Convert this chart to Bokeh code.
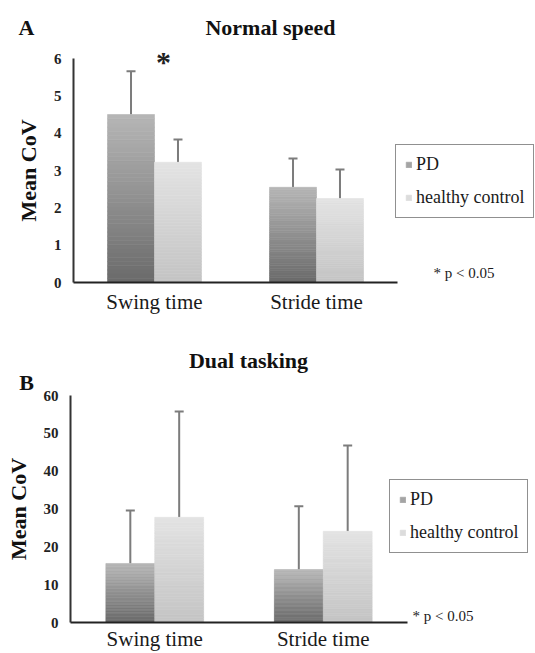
from bokeh.plotting import figure
from bokeh.models import (Range1d, FixedTicker, ColumnDataSource,
                          Whisker, TeeHead, Label, Legend, LegendItem)
from bokeh.layouts import column
from bokeh.embed import file_html
from bokeh.resources import INLINE

# ---------------- data ----------------
categories = ["Swing time", "Stride time"]
groups = ["PD", "healthy control"]

normal_pd_mean = [4.50, 2.55]
normal_pd_sd = [1.16, 0.77]
normal_hc_mean = [3.22, 2.25]
normal_hc_sd = [0.61, 0.78]

dual_pd_mean = [15.6, 14.0]
dual_pd_sd = [14.0, 16.7]
dual_hc_mean = [27.8, 24.1]
dual_hc_sd = [28.0, 22.7]

normal_ticks = [0, 1, 2, 3, 4, 5, 6]
dual_ticks = [0, 10, 20, 30, 40, 50, 60]

panel_letters = ["A", "B"]
panel_titles = ["Normal speed", "Dual tasking"]
sig_note = "* p < 0.05"
sig_mark = "*"

# ---------------- style ----------------
W = 535
SERIF = "Liberation Serif"
PD_GRAD = ("#6a6a6a", "#b6b6b6")
HC_GRAD = ("#c4c4c4", "#e3e3e3")
BAR_W = 0.29
NSEG = 40
LEG_IDX = int(NSEG * 0.75)   # shade of the gradient shown in the legend


def lerp(c0, c1, t):
    a = [int(c0[i:i + 2], 16) for i in (1, 3, 5)]
    b = [int(c1[i:i + 2], 16) for i in (1, 3, 5)]
    return "#%02x%02x%02x" % tuple(round(a[j] + (b[j] - a[j]) * t) for j in range(3))


def make_panel(pd_mean, pd_sd, hc_mean, hc_sd, ticks, letter, title,
               top, height, origin, px_per_x, px_per_y, cat_standoff,
               letter_pos, title_pos, note_pos, legend_pos, star_pos=None):
    # page pixel geometry -> data ranges (frame covers the whole canvas)
    ox, oy = origin
    bottom = top + height
    x_rng = Range1d(-ox / px_per_x, (W - ox) / px_per_x)
    y_rng = Range1d(-(bottom - oy) / px_per_y, (oy - top) / px_per_y)

    def scr(pt):
        return pt[0], bottom - pt[1]

    p = figure(width=W, height=height, output_backend="svg", toolbar_location=None,
               x_range=x_rng, y_range=y_rng,
               min_border=0, min_border_left=0, min_border_right=0,
               min_border_top=0, min_border_bottom=0,
               background_fill_color="white", border_fill_color="white")
    p.outline_line_color = None
    p.grid.visible = False

    renderers = []
    for means, sds, grad, off in ((pd_mean, pd_sd, PD_GRAD, -BAR_W / 2),
                                  (hc_mean, hc_sd, HC_GRAD, BAR_W / 2)):
        L, R, B, T, C = [], [], [], [], []
        xs, lo, up = [], [], []
        for i, v in enumerate(means):
            xc = i + 0.5 + off
            for k in range(NSEG):
                L.append(xc - BAR_W / 2)
                R.append(xc + BAR_W / 2)
                B.append(v * k / NSEG)
                T.append(v * (k + 1) / NSEG)
                C.append(lerp(grad[0], grad[1], (k + 0.5) / NSEG))
            xs.append(xc)
            lo.append(v)
            up.append(v + sds[i])
        src = ColumnDataSource(dict(left=L, right=R, bottom=B, top=T, color=C))
        r = p.quad(left="left", right="right", bottom="bottom", top="top", source=src,
                   fill_color="color", line_color="color", line_width=0.6)
        renderers.append(r)
        wsrc = ColumnDataSource(dict(base=xs, lower=lo, upper=up))
        p.add_layout(Whisker(source=wsrc, base="base", lower="lower", upper="upper",
                             line_color="#7c7c7c", line_width=2,
                             upper_head=TeeHead(size=9, line_color="#7c7c7c", line_width=2),
                             lower_head=None))

    legend = Legend(items=[LegendItem(label=groups[0], renderers=[renderers[0]], index=LEG_IDX),
                           LegendItem(label=groups[1], renderers=[renderers[1]], index=LEG_IDX)],
                    location=scr(legend_pos), margin=0, padding=9, spacing=12,
                    label_height=21, glyph_width=7, glyph_height=7, label_standoff=4,
                    label_text_font=SERIF, label_text_font_size="18px",
                    label_text_color="#1a1a1a",
                    border_line_color="#222222", border_line_width=1,
                    background_fill_color="white", background_fill_alpha=1)
    p.add_layout(legend)

    # axes, pinned at the data origin
    p.xaxis.fixed_location = 0
    p.yaxis.fixed_location = 0
    p.xaxis.bounds = (0, len(categories))
    p.yaxis.bounds = (ticks[0], ticks[-1])

    p.xaxis.ticker = FixedTicker(ticks=[i + 0.5 for i in range(len(categories))])
    p.xaxis.major_label_overrides = {i + 0.5: c for i, c in enumerate(categories)}
    p.xaxis.axis_line_color = "#222222"
    p.xaxis.axis_line_width = 2
    p.xaxis.major_tick_line_color = None
    p.xaxis.minor_tick_line_color = None
    p.xaxis.major_tick_out = 0
    p.xaxis.major_tick_in = 0
    p.xaxis.major_label_standoff = cat_standoff
    p.xaxis.major_label_text_font = SERIF
    p.xaxis.major_label_text_font_size = "21px"
    p.xaxis.major_label_text_color = "#1a1a1a"

    p.yaxis.ticker = FixedTicker(ticks=ticks)
    p.yaxis.axis_line_color = "#333333"
    p.yaxis.axis_line_width = 2
    p.yaxis.major_tick_line_color = None
    p.yaxis.minor_tick_line_color = None
    p.yaxis.major_tick_out = 0
    p.yaxis.major_tick_in = 0
    p.yaxis.major_label_standoff = 12
    p.yaxis.major_label_text_font = SERIF
    p.yaxis.major_label_text_font_style = "bold"
    p.yaxis.major_label_text_font_size = "15px"
    p.yaxis.major_label_text_color = "#222222"
    p.yaxis.axis_label = "Mean CoV"
    p.yaxis.axis_label_text_font = SERIF
    p.yaxis.axis_label_text_font_style = "bold"
    p.yaxis.axis_label_text_font_size = "22px"
    p.yaxis.axis_label_text_color = "#111111"
    p.yaxis.axis_label_standoff = 10

    # texts
    lx, ly = scr(letter_pos)
    p.add_layout(Label(x=lx, y=ly, x_units="screen", y_units="screen",
                       text=letter, text_font=SERIF, text_font_style="bold",
                       text_font_size="22px", text_align="center", text_baseline="middle",
                       text_color="#111111"))
    tx, ty = scr(title_pos)
    p.add_layout(Label(x=tx, y=ty, x_units="screen", y_units="screen",
                       text=title, text_font=SERIF, text_font_style="bold",
                       text_font_size="22px", text_align="center", text_baseline="middle",
                       text_color="#111111"))
    nx, ny = scr(note_pos)
    p.add_layout(Label(x=nx, y=ny, x_units="screen", y_units="screen",
                       text=sig_note, text_font=SERIF, text_font_size="15px",
                       text_align="left", text_baseline="middle", text_color="#1a1a1a"))
    if star_pos is not None:
        sx, sy = scr(star_pos)
        p.add_layout(Label(x=sx, y=sy, x_units="screen", y_units="screen",
                           text=sig_mark, text_font=SERIF, text_font_style="bold",
                           text_font_size="30px", text_align="center",
                           text_baseline="middle", text_color="#222222"))
    return p


pA = make_panel(normal_pd_mean, normal_pd_sd, normal_hc_mean, normal_hc_sd, normal_ticks,
                panel_letters[0], panel_titles[0],
                top=0, height=318, origin=(73, 282), px_per_x=162, px_per_y=37.333,
                cat_standoff=7,
                letter_pos=(26, 27), title_pos=(270, 27), note_pos=(433, 272),
                legend_pos=(395, 218), star_pos=(163, 61))

pB = make_panel(dual_pd_mean, dual_pd_sd, dual_hc_mean, dual_hc_sd, dual_ticks,
                panel_letters[1], panel_titles[1],
                top=318, height=335, origin=(70, 622), px_per_x=168.5, px_per_y=3.7833,
                cat_standoff=4,
                letter_pos=(26, 382), title_pos=(248, 360), note_pos=(412, 615),
                legend_pos=(389, 553))

layout = column(pA, pB, spacing=0)
open("out.html", "w").write(file_html(layout, INLINE))
